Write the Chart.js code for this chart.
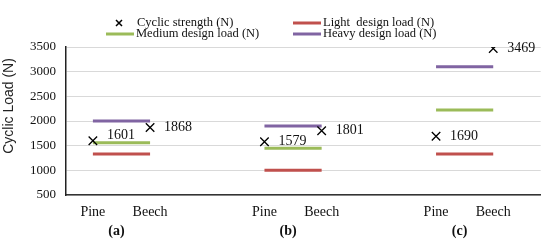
<!DOCTYPE html>
<html>
<head>
<meta charset="utf-8">
<script src="https://cdn.jsdelivr.net/npm/chart.js@4/dist/chart.umd.min.js"></script>
<style>
  html, body { margin: 0; padding: 0; background: #fff; }
  #wrap { width: 548px; height: 241px; }
</style>
</head>
<body>
<div id="wrap"><canvas id="chart-cyclic" width="548" height="241"></canvas></div>
<script>
// Dados
const grupos = ['(a)', '(b)', '(c)'];
const especies = ['Pine', 'Beech'];
const resistenciaCiclica = [1601, 1868, 1579, 1801, 1690, 3469]; // Pine/Beech por grupo
const cargaLeve = [1330, 1000, 1330];
const cargaMedia = [1560, 1450, 2225];
const cargaPesada = [2000, 1900, 3100];
const ticksY = [500, 1000, 1500, 2000, 2500, 3000, 3500];

const SERIF = "'Liberation Serif', 'Times New Roman', serif";
const SANS = "'Liberation Sans', Arial, sans-serif";

// posição no eixo x: grupo g, espécie s
const posX = (g, s) => g * 3 + s + 1;

const rotulosX = {};
grupos.forEach((g, gi) => especies.forEach((e, si) => { rotulosX[posX(gi, si)] = e; }));

const pontosCiclicos = [];
grupos.forEach((g, gi) => especies.forEach((e, si) => {
    pontosCiclicos.push({ x: posX(gi, si), y: resistenciaCiclica[gi * 2 + si] });
}));

function serieCarga(valores) {
    const pts = [];
    valores.forEach((v, gi) => {
        pts.push({ x: posX(gi, 0), y: v });
        pts.push({ x: posX(gi, 1), y: v });
        pts.push({ x: posX(gi, 1) + 0.5, y: null });
    });
    return pts;
}

// Legenda, rótulos de dados e rótulos de grupo desenhados à mão
const extras = {
    id: 'extras',
    afterDraw(chart) {
        const ctx = chart.ctx;
        ctx.save();

        // título do eixo Y
        ctx.fillStyle = '#222';
        ctx.font = '14px ' + SANS;
        ctx.textAlign = 'center';
        ctx.textBaseline = 'middle';
        ctx.translate(9, 106);
        ctx.rotate(-Math.PI / 2);
        ctx.fillText('Cyclic Load (N)', 0, 0);
        ctx.setTransform(1, 0, 0, 1, 0, 0);

        // rótulos de dados
        const meta = chart.getDatasetMeta(0);
        ctx.font = '14px ' + SERIF;
        ctx.textAlign = 'left';
        ctx.fillStyle = '#111';
        meta.data.forEach((p, i) => {
            const dy = i === 0 ? -5 : 0;
            ctx.fillText(String(resistenciaCiclica[i]), p.x + 14, p.y + dy);
        });

        // rótulos de grupo
        const xs = chart.scales.x;
        ctx.font = 'bold 14px ' + SERIF;
        ctx.textAlign = 'center';
        grupos.forEach((g, gi) => {
            const m = (xs.getPixelForValue(posX(gi, 0)) + xs.getPixelForValue(posX(gi, 1))) / 2 - 5;
            ctx.fillText(g, m, 231);
        });

        // legenda
        const ds = chart.data.datasets;
        const itens = [
            { d: ds[0], x: 119, y: 23 },
            { d: ds[1], x: 293, y: 23 },
            { d: ds[2], x: 106, y: 34 },
            { d: ds[3], x: 293, y: 34 }
        ];
        ctx.font = '12.5px ' + SERIF;
        ctx.textAlign = 'left';
        itens.forEach(it => {
            if (it.d.showLine === false) {
                ctx.strokeStyle = '#000';
                ctx.lineWidth = 1.5;
                ctx.beginPath();
                ctx.moveTo(it.x - 3, it.y - 3); ctx.lineTo(it.x + 3, it.y + 3);
                ctx.moveTo(it.x + 3, it.y - 3); ctx.lineTo(it.x - 3, it.y + 3);
                ctx.stroke();
                ctx.fillText(it.d.label, 137, it.y);
            } else {
                ctx.strokeStyle = it.d.borderColor;
                ctx.lineWidth = 3;
                ctx.beginPath();
                ctx.moveTo(it.x, it.y); ctx.lineTo(it.x + 28, it.y);
                ctx.stroke();
                ctx.fillText(it.d.label, it.x + 30, it.y);
            }
        });
        ctx.restore();
    }
};

new Chart(document.getElementById('chart-cyclic').getContext('2d'), {
    type: 'line',
    data: {
        datasets: [
            {
                label: 'Cyclic strength (N)',
                data: pontosCiclicos,
                showLine: false,
                pointStyle: 'crossRot',
                pointRadius: 6,
                borderColor: '#000',
                borderWidth: 1.3,
                order: 0
            },
            {
                label: 'Light  design load (N)',
                data: serieCarga(cargaLeve),
                borderColor: '#c0504d',
                borderWidth: 3,
                pointRadius: 0,
                spanGaps: false,
                order: 1
            },
            {
                label: 'Medium design load (N)',
                data: serieCarga(cargaMedia),
                borderColor: '#9bbb59',
                borderWidth: 3,
                pointRadius: 0,
                spanGaps: false,
                order: 1
            },
            {
                label: 'Heavy design load (N)',
                data: serieCarga(cargaPesada),
                borderColor: '#8064a2',
                borderWidth: 3,
                pointRadius: 0,
                spanGaps: false,
                order: 1
            }
        ]
    },
    options: {
        responsive: false,
        animation: false,
        layout: { padding: { top: 47, left: 0, right: 1, bottom: 0 } },
        plugins: { legend: { display: false }, tooltip: { enabled: false } },
        scales: {
            x: {
                type: 'linear',
                min: 0.53,
                max: 8.83,
                afterBuildTicks: s => { s.ticks = Object.keys(rotulosX).map(v => ({ value: Number(v) })); },
                afterFit: s => { s.height = 46; },
                grid: { display: false, drawTicks: false },
                border: { display: true, color: '#333', width: 1.5 },
                ticks: {
                    autoSkip: false,
                    maxRotation: 0,
                    padding: 9,
                    color: '#111',
                    font: { family: SERIF, size: 14 },
                    callback: v => rotulosX[v] || ''
                }
            },
            y: {
                min: 500,
                max: 3500,
                afterBuildTicks: s => { s.ticks = ticksY.map(v => ({ value: v })); },
                afterFit: s => { s.width = 66; },
                grid: { color: '#d9d9d9', drawTicks: false },
                border: { display: true, color: '#222', width: 1.5 },
                ticks: {
                    padding: 10,
                    color: '#111',
                    font: { family: SERIF, size: 13 },
                    callback: v => String(v)
                }
            }
        }
    },
    plugins: [extras]
});
</script>
</body>
</html>
